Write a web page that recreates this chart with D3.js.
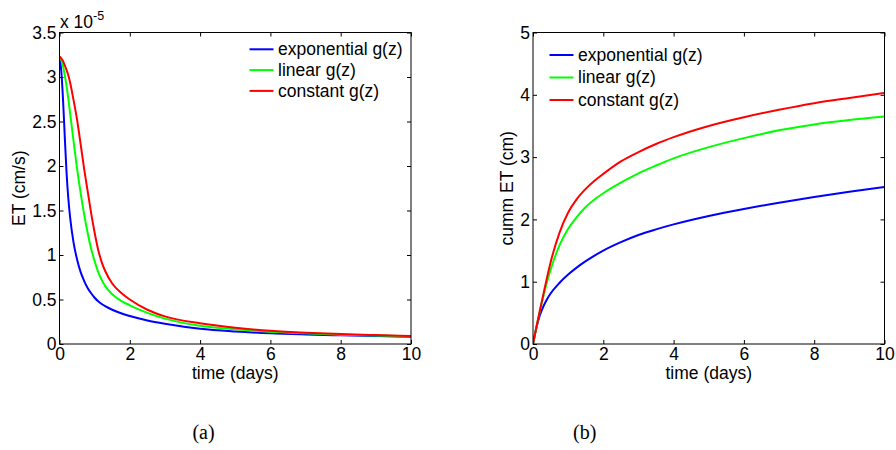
<!DOCTYPE html>
<html>
<head>
<meta charset="utf-8">
<script src="https://cdn.jsdelivr.net/npm/d3@7"></script>
<style>
  body { margin: 0; background: #fff; }
  svg { display: block; }
</style>
</head>
<body>
<div id="figure"></div>
<script>
// (a) ET rate, values in units of 1e-5 cm/s
const timeA = [0, 0.05, 0.1, 0.15, 0.2, 0.25, 0.3, 0.4, 0.5, 0.6, 0.7, 0.8, 0.9, 1.0, 1.1, 1.2, 1.3, 1.5, 1.75, 2, 2.5, 3, 4, 5, 6, 7, 8, 9, 10];
const etExp = [3.23, 3.07, 2.75, 2.33, 1.93, 1.64, 1.43, 1.14, 0.95, 0.81, 0.71, 0.63, 0.57, 0.52, 0.48, 0.45, 0.425, 0.385, 0.345, 0.314, 0.265, 0.228, 0.172, 0.141, 0.12, 0.107, 0.097, 0.089, 0.082];
const etLin = [3.23, 3.19, 3.12, 3.02, 2.90, 2.76, 2.60, 2.28, 1.97, 1.70, 1.46, 1.25, 1.07, 0.93, 0.81, 0.72, 0.65, 0.56, 0.485, 0.435, 0.35, 0.285, 0.205, 0.165, 0.138, 0.12, 0.105, 0.095, 0.087];
const etConst = [3.23, 3.21, 3.18, 3.13, 3.08, 3.02, 2.94, 2.74, 2.52, 2.25, 1.97, 1.72, 1.47, 1.25, 1.06, 0.92, 0.82, 0.68, 0.575, 0.50, 0.385, 0.31, 0.232, 0.183, 0.149, 0.127, 0.112, 0.10, 0.09];

// (b) cumulative ET, cm
const timeB = [0, 0.1, 0.2, 0.3, 0.4, 0.5, 0.75, 1, 1.25, 1.5, 1.75, 2, 2.5, 3, 3.5, 4, 5, 6, 7, 8, 9, 10];
const cumExp = [0, 0.27, 0.47, 0.61, 0.72, 0.81, 0.98, 1.115, 1.23, 1.33, 1.42, 1.50, 1.635, 1.75, 1.84, 1.92, 2.055, 2.168, 2.268, 2.36, 2.444, 2.52];
const cumLin = [0, 0.275, 0.54, 0.78, 1.0, 1.19, 1.58, 1.85, 2.04, 2.20, 2.32, 2.42, 2.59, 2.74, 2.865, 2.98, 3.16, 3.305, 3.43, 3.525, 3.595, 3.65];
const cumConst = [0, 0.28, 0.55, 0.81, 1.07, 1.31, 1.78, 2.11, 2.33, 2.49, 2.62, 2.73, 2.93, 3.08, 3.21, 3.32, 3.50, 3.64, 3.76, 3.865, 3.95, 4.03];

const seriesNames = ["exponential g(z)", "linear g(z)", "constant g(z)"];
const seriesColors = ["#0000ff", "#00ff00", "#ff0000"];
const timeTicks = [0, 2, 4, 6, 8, 10];
const etTicks = [0, 0.5, 1, 1.5, 2, 2.5, 3, 3.5];
const cumTicks = [0, 1, 2, 3, 4, 5];

const width = 896, height = 450;
const font = "'Liberation Sans', Arial, Helvetica, sans-serif";
const fontSize = 17.5;

const svg = d3.select("#figure")
    .append("svg")
    .attr("width", width)
    .attr("height", height)
    .attr("viewBox", [0, 0, width, height]);

function Panel({
    id, time, series, yDomain, yTicks, yLabel, yLabelX,
    left, right, top = 32.5, bottom = 344,
    legendX, legendY, legendStep, caption, captionX
}) {
    const x = d3.scaleLinear([0, 10], [left, right]);
    const y = d3.scaleLinear(yDomain, [bottom, top]);

    const g = svg.append("g")
        .attr("font-family", font)
        .attr("font-size", fontSize);

    g.append("clipPath")
        .attr("id", id)
        .append("rect")
        .attr("x", left)
        .attr("y", top)
        .attr("width", right - left)
        .attr("height", bottom - top);

    const line = d3.line()
        .curve(d3.curveMonotoneX)
        .x((d, i) => x(time[i]))
        .y(d => y(d));

    // axes with inward ticks on every side
    const tick = 4;
    g.append("g")
        .attr("transform", `translate(0,${bottom})`)
        .call(d3.axisBottom(x).tickValues(timeTicks).tickSize(-tick).tickPadding(4).tickFormat(d3.format("d")))
        .call(a => a.select(".domain").remove())
        .call(a => a.selectAll("text").attr("font-size", fontSize).attr("font-family", font).attr("fill", "#000"));
    g.append("g")
        .attr("transform", `translate(0,${top})`)
        .call(d3.axisTop(x).tickValues(timeTicks).tickSize(-tick).tickFormat(""))
        .call(a => a.select(".domain").remove());
    g.append("g")
        .attr("transform", `translate(${left},0)`)
        .call(d3.axisLeft(y).tickValues(yTicks).tickSize(-tick).tickPadding(3).tickFormat(d => String(d)))
        .call(a => a.select(".domain").remove())
        .call(a => a.selectAll("text").attr("font-size", fontSize).attr("font-family", font).attr("fill", "#000"));
    g.append("g")
        .attr("transform", `translate(${right},0)`)
        .call(d3.axisRight(y).tickValues(yTicks).tickSize(-tick).tickFormat(""))
        .call(a => a.select(".domain").remove());

    g.selectAll(".tick line").attr("stroke", "#000");

    g.append("g")
        .attr("clip-path", `url(#${id})`)
        .selectAll("path")
        .data(series)
        .join("path")
        .attr("fill", "none")
        .attr("stroke", (d, i) => seriesColors[i])
        .attr("stroke-width", 2)
        .attr("stroke-linejoin", "round")
        .attr("d", d => line(d));

    g.append("rect")
        .attr("x", left)
        .attr("y", top)
        .attr("width", right - left)
        .attr("height", bottom - top)
        .attr("fill", "none")
        .attr("stroke", "#000")
        .attr("stroke-width", 1);

    g.append("text")
        .attr("x", (left + right) / 2)
        .attr("y", 379)
        .attr("text-anchor", "middle")
        .text("time (days)");

    g.append("text")
        .attr("transform", `translate(${yLabelX},${(top + bottom) / 2}) rotate(-90)`)
        .attr("text-anchor", "middle")
        .text(yLabel);

    const legend = g.append("g")
        .selectAll("g")
        .data(seriesNames)
        .join("g")
        .attr("transform", (d, i) => `translate(${legendX},${legendY + i * legendStep})`);
    legend.append("line")
        .attr("x1", 0)
        .attr("x2", 24)
        .attr("stroke", (d, i) => seriesColors[i])
        .attr("stroke-width", 2);
    legend.append("text")
        .attr("x", 28.5)
        .attr("dy", "0.33em")
        .text(d => d);

    svg.append("text")
        .attr("x", captionX)
        .attr("y", 439)
        .attr("text-anchor", "middle")
        .attr("font-family", "'Liberation Serif', 'Times New Roman', serif")
        .attr("font-size", 20)
        .text(caption);

    return g;
}

const panelA = Panel({
    id: "clipA", time: timeA, series: [etExp, etLin, etConst],
    yDomain: [0, 3.5], yTicks: etTicks, yLabel: "ET (cm/s)", yLabelX: 25,
    left: 59.5, right: 411,
    legendX: 249.5, legendY: 49.3, legendStep: 20.8,
    caption: "(a)", captionX: 203.5
});

// exponent label for axis (a)
const expLabel = panelA.append("text")
    .attr("x", 60)
    .attr("y", 28);
expLabel.append("tspan").text("x 10");
expLabel.append("tspan")
    .attr("dy", -8)
    .attr("font-size", 12.5)
    .text("-5");

Panel({
    id: "clipB", time: timeB, series: [cumExp, cumLin, cumConst],
    yDomain: [0, 5], yTicks: cumTicks, yLabel: "cumm ET (cm)", yLabelX: 513,
    left: 533, right: 884.5,
    legendX: 549.5, legendY: 55, legendStep: 22.5,
    caption: "(b)", captionX: 584.7
});
</script>
</body>
</html>
